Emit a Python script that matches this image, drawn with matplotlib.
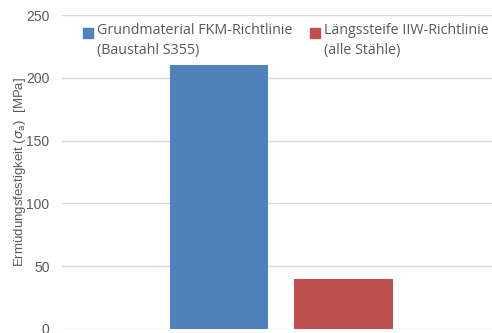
import matplotlib.pyplot as plt
from matplotlib.patches import Patch, Rectangle
from matplotlib.legend_handler import HandlerPatch

series = ["Grundmaterial FKM-Richtlinie\n(Baustahl S355)", "Längssteife IIW-Richtlinie\n(alle Stähle)"]
values = [210, 40]
colors = ["#4f81bd", "#c0504d"]
yticks = [0, 50, 100, 150, 200, 250]

fig = plt.figure(figsize=(4.92, 3.33), dpi=100)
ax = fig.add_axes([62/492, 4/333, 1 - 62/492, 314/333])

offsets = [-0.125, 0.125]
for off, v, c, s in zip(offsets, values, colors, series):
    ax.bar(off, v, width=0.197, color=c, label=s, zorder=3)

ax.set_xlim(-0.44, 0.423)
ax.set_ylim(0, 250)
ax.set_yticks(yticks)
ax.set_xticks([])
for sp in ax.spines.values():
    sp.set_visible(False)
ax.yaxis.grid(True, color="#d9d9d9", linewidth=1, zorder=0)
ax.tick_params(axis="y", length=0, pad=9, labelsize=10, labelcolor="#595959")
for t in ax.get_yticklabels():
    t.set_fontfamily("Liberation Sans")
ax.set_ylabel(r"Ermüdungsfestigkeit ($\sigma_{\mathrm{a}}$)  [MPa]", fontsize=9.5,
              color="#595959", family="Liberation Sans")
ax.yaxis.set_label_coords(-0.08, 0.5)


def top_square(legend, orig_handle, xdescent, ydescent, width, height, fontsize):
    return Rectangle((-xdescent, -ydescent + 6.3), width, height)


handles = [Patch(color=c) for c in colors]
leg = ax.legend(handles, series, ncol=2, frameon=False, loc="upper left",
                bbox_to_anchor=(0.026, 1.005), prop={"family": "Open Sans", "size": 10.3},
                handlelength=0.7, handleheight=0.7, handletextpad=0.3,
                columnspacing=1.2, labelcolor="#595959", borderpad=0.2,
                handler_map={Patch: HandlerPatch(patch_func=top_square)})
for t in leg.get_texts():
    t.set_linespacing(1.45)

fig.savefig("out.png", dpi=100)
